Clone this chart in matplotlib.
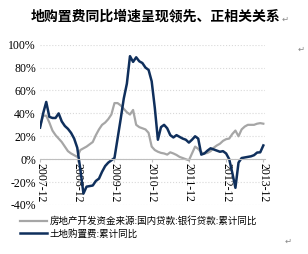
import matplotlib
matplotlib.use("Agg")
import matplotlib.pyplot as plt
import numpy as np

plt.rcParams['font.family'] = ['Noto Sans CJK SC', 'DejaVu Sans']

title = "地购置费同比增速呈现领先、正相关关系"
label_loan = "房地产开发资金来源:国内贷款:银行贷款:累计同比"
label_land = "土地购置费:累计同比"
tick_labels = ["2007-12", "2008-12", "2009-12", "2010-12", "2011-12", "2012-12", "2013-12"]

# monthly, 2007-12 .. 2013-12 (%)
loan = [28.5, 38, 38, 32, 25, 21, 18, 15, 11, 7, 5, 3.5,
        2, 8, 9.5, 11, 13, 15, 21, 26, 30, 32, 35, 39,
        49, 49, 47, 44, 41, 39, 43, 30, 28, 27, 26, 23,
        11, 8, 6.5, 5.5, 5, 4, 6, 5, 3.7, 2, 1, 0,
        -1, 5, 11, 9, 6, 5, 5.5, 7, 10, 12, 13.5, 16,
        17.5, 18, 22, 25, 20, 26, 28.5, 30, 30, 30, 31, 31.5,
        31]
land = [27.6, 40, 50, 37, 36, 36, 40, 33, 29, 26.5, 23, 18,
        10, -9, -30, -24, -23.5, -23, -19, -17, -11, -6, -3, -1,
        1, 18, 35, 53, 66, 90, 85, 89, 85.5, 84, 80, 78,
        68, 45, 17, 28, 30, 27, 21, 19, 21, 19.5, 18, 17,
        14.5, 17, 20, 18, 4, 5, 7.5, 9.5, 8.5, 7.5, 6.5, 7,
        5, 0, -12, -25, -3, 1, 1.5, 2, 2.5, 3.5, 5.8, 6,
        12]

fig = plt.figure(figsize=(3.08, 2.54), dpi=100)
ax = fig.add_axes([0.13, 0.193, 0.73, 0.631])

# spine position first, it resets the tick labels
for s in ['left', 'right', 'top']:
    ax.spines[s].set_visible(False)
ax.spines['bottom'].set_position(('data', 0))
ax.spines['bottom'].set_color('#bfbfbf')
ax.spines['bottom'].set_linewidth(0.8)

x = np.arange(len(land))
l1, = ax.plot(x, loan, color='#a6a6a6', lw=1.6, label=label_loan)
l2, = ax.plot(x, land, color='#0f2f5c', lw=1.8, label=label_land)

ax.set_xlim(0, 72.5)
ax.set_ylim(-40, 100)
yt = np.arange(-40, 101, 20)
ax.set_yticks(yt)
ax.set_yticklabels(["%d%%" % v for v in yt])
ax.set_xticks(np.arange(0, 73, 12))
ax.set_xticklabels(tick_labels)
for t in ax.get_yticklabels():
    t.set_fontfamily('Liberation Serif')
    t.set_fontsize(8.5)
for t in ax.get_xticklabels():
    t.set_fontfamily('Liberation Serif')
    t.set_fontsize(8.5)
    t.set_rotation(270)
ax.tick_params(axis='y', length=0, pad=3)
ax.tick_params(axis='x', length=2, pad=1, color='#bfbfbf')

ax.grid(axis='y', color='#d9d9d9', linestyle=':', lw=0.8)

fig.text(0.505, 0.935, title, ha='center', va='center', fontsize=10, fontweight='bold')
fig.text(0.915, 0.925, "\u21b5", ha='left', va='center', fontsize=6, color='#888888',
         family=['DejaVu Sans'])
fig.text(0.965, 0.805, "\u21b5", ha='left', va='center', fontsize=6, color='#888888',
         family=['DejaVu Sans'])
fig.text(0.925, 0.05, "\u21b5", ha='left', va='center', fontsize=6, color='#888888',
         family=['DejaVu Sans'])

fig.legend(handles=[l1, l2], loc='upper left', bbox_to_anchor=(0.065, 0.148),
           frameon=False, fontsize=6.85, handlelength=2.85, handletextpad=0.3,
           labelspacing=0.28, borderpad=0, borderaxespad=0)

fig.savefig("out.png", dpi=100)
